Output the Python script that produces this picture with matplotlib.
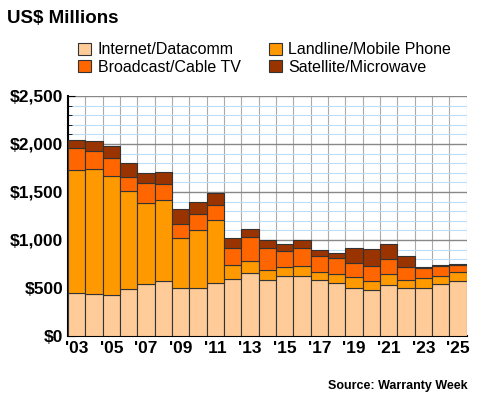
import matplotlib
matplotlib.use("Agg")
import matplotlib.pyplot as plt
import numpy as np

plt.rcParams['font.family'] = ['Liberation Sans', 'DejaVu Sans']

years = list(range(2003, 2026))
internet = [446,436,426,491,540,578,505,505,553,595,657,588,620,630,581,547,505,477,533,502,505,540,571]
landline_top = [1730,1740,1664,1508,1381,1412,1020,1107,1204,744,786,692,720,726,668,644,612,578,644,581,602,630,664]
broadcast_top = [1955,1930,1855,1661,1595,1588,1166,1273,1363,913,1028,917,882,917,834,813,765,734,806,723,706,730,740]
total = [2041,2031,1983,1799,1699,1706,1325,1401,1487,1024,1114,996,962,996,900,869,921,906,958,830,719,740,755]
landline = [a-b for a,b in zip(landline_top, internet)]
broadcast = [a-b for a,b in zip(broadcast_top, landline_top)]
satellite = [a-b for a,b in zip(total, broadcast_top)]
names = ["Internet/Datacomm", "Landline/Mobile Phone", "Broadcast/Cable TV", "Satellite/Microwave"]
colors = ["#FFCC99", "#FF9900", "#FF6600", "#993300"]

fig = plt.figure(figsize=(4.8, 4.0), dpi=100)
ax = fig.add_axes([0.142, 0.16, 0.83, 0.6])
x = np.arange(len(years))
bottom = np.zeros(len(years))
handles = []
for vals, c, n in zip([internet, landline, broadcast, satellite], colors, names):
    h = ax.bar(x, vals, bottom=bottom, width=1.0, color=c, edgecolor="#333333", linewidth=0.8, label=n, zorder=3)
    handles.append(h)
    bottom += np.array(vals)
ax.set_xlim(-0.5, len(years)-0.5)
ax.set_ylim(0, 2500)
ax.set_yticks(range(0, 2501, 500))
ax.set_yticklabels(["$0", "$500", "$1,000", "$1,500", "$2,000", "$2,500"], fontsize=12.5, fontweight="bold")
ax.set_yticks(range(0, 2501, 100), minor=True)
ax.grid(which="minor", axis="y", color="#BBDDF5", linewidth=0.8, zorder=0)
ax.grid(which="major", axis="y", color="#888888", linewidth=1.0, zorder=1)
for xv in np.arange(-0.5, len(years), 1.0):
    ax.axvline(xv, color="#AAAAAA", linewidth=0.8, zorder=1)
ax.set_xticks(x[::2])
ax.set_xticklabels(["'%02d" % (y % 100) for y in years[::2]], fontsize=12.5, fontweight="bold")
ax.tick_params(axis="y", which="both", direction="in", left=True, length=5)
ax.tick_params(axis="y", which="minor", length=3)
ax.tick_params(axis="x", length=0)
for s in ["top", "right"]:
    ax.spines[s].set_visible(False)
ax.spines["left"].set_linewidth(1.5)
ax.spines["bottom"].set_linewidth(1.5)
fig.text(0.015, 0.975, "US$ Millions", fontsize=13.5, fontweight="bold", va="top")
order = [0, 2, 1, 3]
fig.legend(handles=[handles[i] for i in order], labels=[names[i] for i in order],
           loc="upper left", bbox_to_anchor=(0.15, 0.91), ncol=2, frameon=False,
           fontsize=11.5, handlelength=0.8, handleheight=0.8, columnspacing=1.8, labelspacing=0.15,
           handletextpad=0.4, borderaxespad=0)
fig.text(0.975, 0.02, "Source: Warranty Week", fontsize=9, fontweight="bold", ha="right", va="bottom")
fig.savefig("out.png", dpi=100)
